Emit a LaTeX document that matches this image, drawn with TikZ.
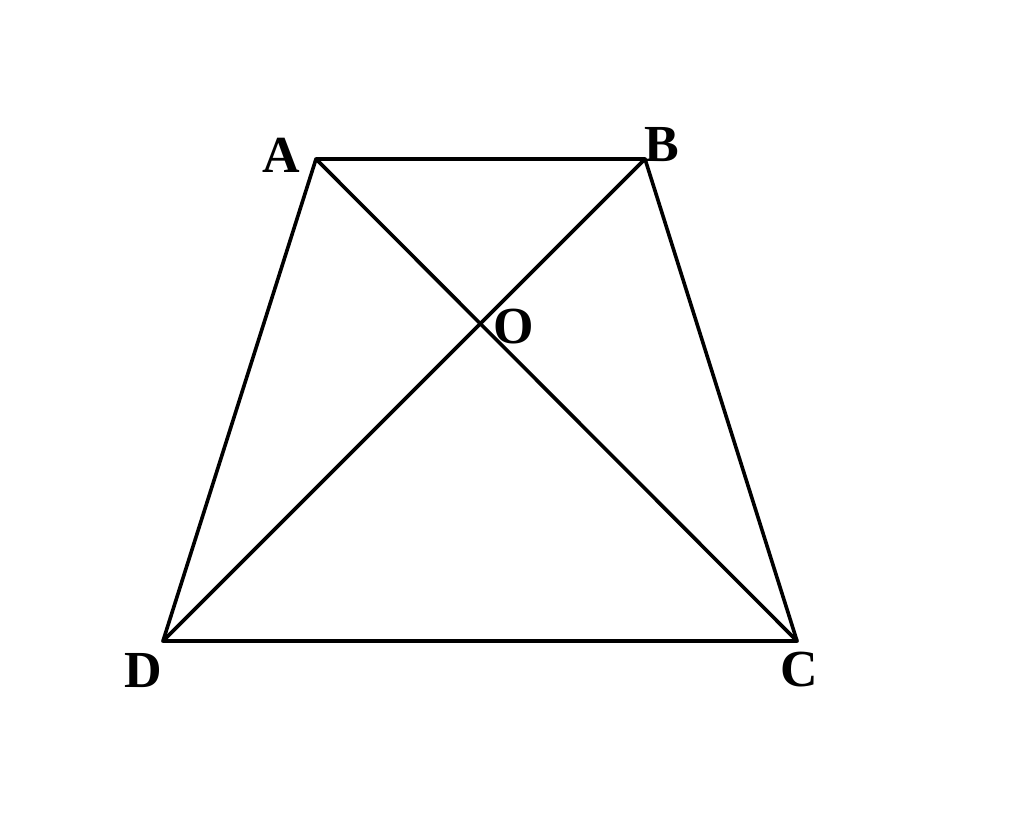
\documentclass[tikz,border=0pt]{standalone}
\usepackage{fontspec}
\setmainfont{Liberation Serif}
\begin{document}
\begin{tikzpicture}[x=1pt,y=-1pt,
  edge/.style={line width=3.6pt,line cap=round,line join=round},
  lbl/.style={font=\fontsize{52}{52}\selectfont\bfseries,inner sep=0pt}]
\useasboundingbox[fill=white] (0,0) rectangle (1024,819);
\coordinate (A) at (316,159);
\coordinate (B) at (645,159);
\coordinate (C) at (797,641);
\coordinate (D) at (163,641);
\draw[edge] (A) -- (B) -- (C) -- (D) -- cycle;
\draw[edge] (A) -- (C);
\draw[edge] (B) -- (D);
\node[lbl] (la) at (281,155) {A};
\node[lbl] (lb) at (662,145) {B};
\node[lbl] (lo) at (514,327) {O};
\node[lbl] (ld) at (143,671) {D};
\node[lbl] (lc) at (799,670) {C};
\end{tikzpicture}
\end{document}
